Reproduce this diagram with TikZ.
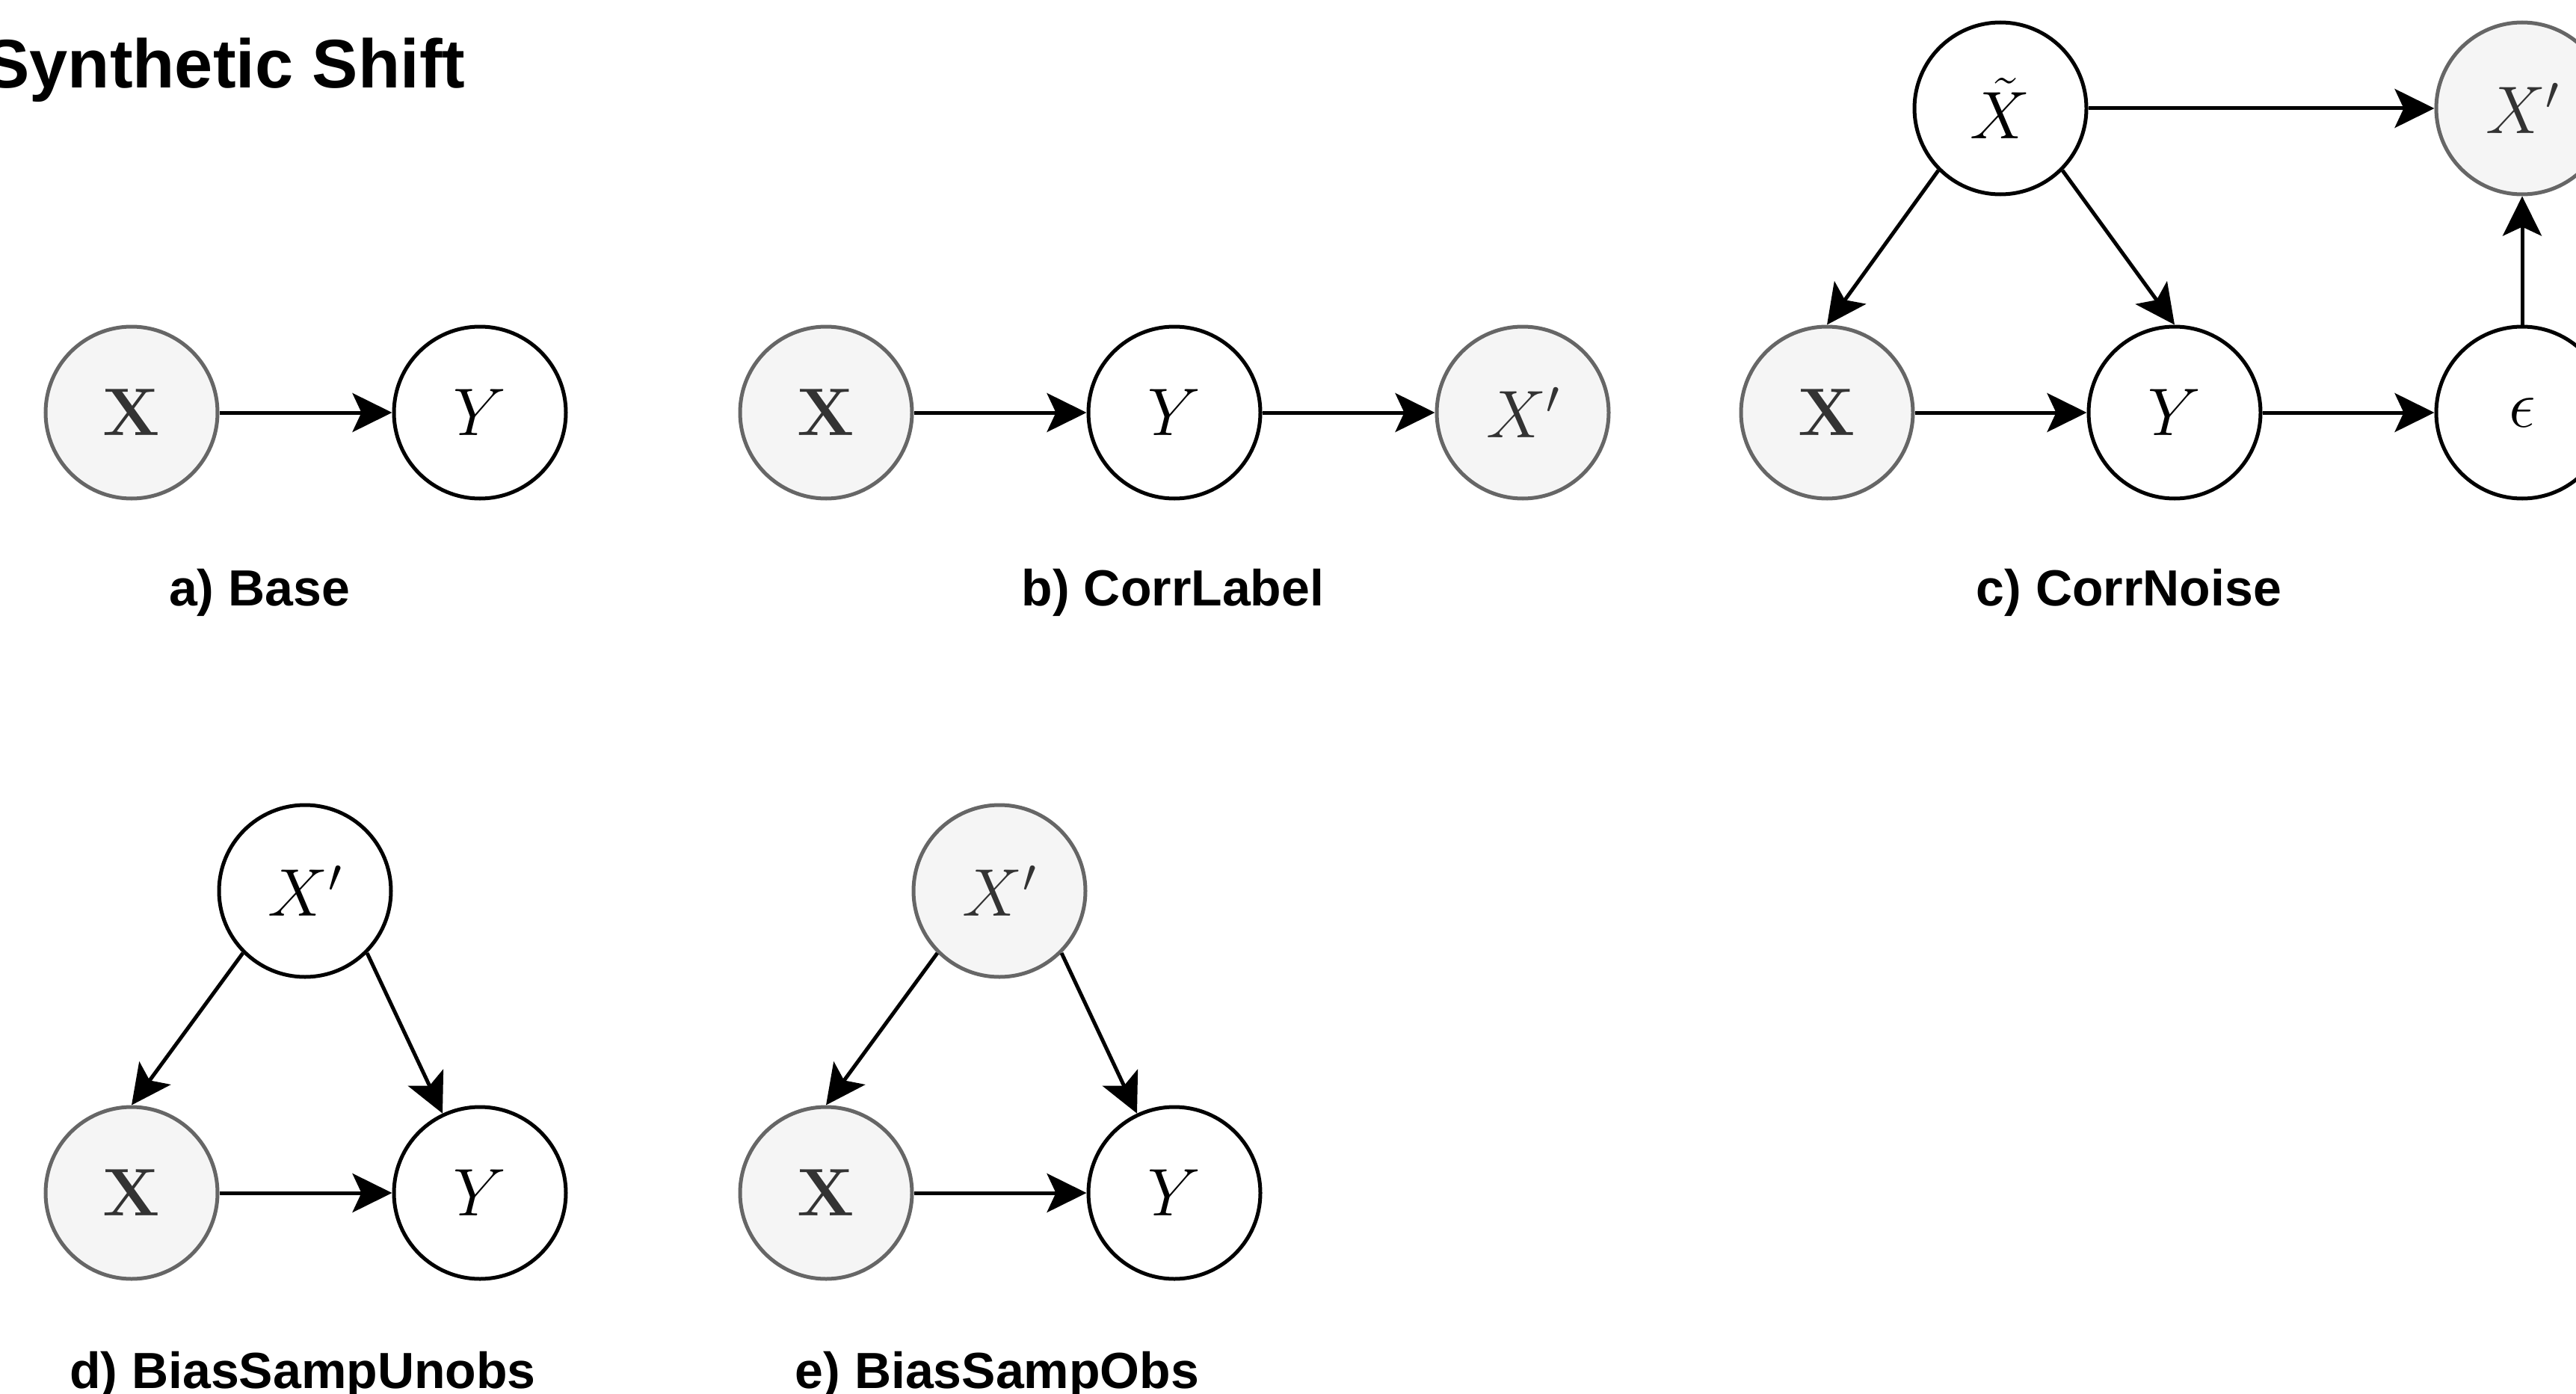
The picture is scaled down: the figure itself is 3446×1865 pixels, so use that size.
\RequirePackage{fix-cm}
\documentclass[tikz,border=0pt]{standalone}
\usepackage[no-math]{fontspec}
\setmainfont{Liberation Sans}
\usetikzlibrary{arrows.meta}

\definecolor{obsfill}{HTML}{F5F5F5}
\definecolor{obsline}{HTML}{666666}
\definecolor{obstext}{HTML}{333333}

\tikzset{
  var/.style={circle, draw=black, fill=white, line width=5pt,
    minimum size=230pt, inner sep=0pt, font=\fontsize{90}{100}\selectfont},
  obs/.style={var, draw=obsline, fill=obsfill, text=obstext},
  edge/.style={line width=5pt, draw=black,
    -{Stealth[length=53pt,width=52pt,inset=12pt]}},
  caption/.style={font=\fontsize{68}{80}\selectfont\bfseries, anchor=base},
  heading/.style={font=\fontsize{92}{110}\selectfont\bfseries, anchor=base east},
}

\begin{document}
\begin{tikzpicture}[x=1pt, y=-1pt]
  \clip (0,0) rectangle (3446,1865);
  \fill[white] (0,0) rectangle (3446,1865);

  \node[heading] (title) at (626,118) {Synthetic Shift};

  % a) Base
  \node[obs] (Xa) at (176,552) {$\mathbf{X}$};
  \node[var] (Ya) at (642,552) {$Y$};
  \draw[edge] (Xa) -- (Ya);
  \node[caption] (capA) at (347,810) {a) Base};

  % b) CorrLabel
  \node[obs] (Xb) at (1105,552) {$\mathbf{X}$};
  \node[var] (Yb) at (1571,552) {$Y$};
  \node[obs] (Pb) at (2037,552) {$X'$};
  \draw[edge] (Xb) -- (Yb);
  \draw[edge] (Yb) -- (Pb);
  \node[caption] (capB) at (1569,810) {b) CorrLabel};

  % c) CorrNoise
  \node[var] (Tc) at (2676,145) {$\tilde{X}$};
  \node[obs] (Pc) at (3374,145) {$X'$};
  \node[obs] (Xc) at (2444,552) {$\mathbf{X}$};
  \node[var] (Yc) at (2909,552) {$Y$};
  \node[var] (Ec) at (3374,552) {$\epsilon$};
  \draw[edge] (Tc) -- (Pc);
  \draw[edge] (Tc.south west) -- (Xc.north);
  \draw[edge] (Tc.south east) -- (Yc.north);
  \draw[edge] (Xc) -- (Yc);
  \draw[edge] (Yc) -- (Ec);
  \draw[edge] (Ec) -- (Pc);
  \node[caption] (capC) at (2848,810) {c) CorrNoise};

  % d) BiasSampUnobs
  \node[var] (Pd) at (408,1192) {$X'$};
  \node[obs] (Xd) at (176,1596) {$\mathbf{X}$};
  \node[var] (Yd) at (642,1596) {$Y$};
  \draw[edge] (Pd.south west) -- (Xd.north);
  \draw[edge] (Pd.south east) -- (Yd);
  \draw[edge] (Xd) -- (Yd);
  \node[caption] (capD) at (405,1857) {d) BiasSampUnobs};

  % e) BiasSampObs
  \node[obs] (Pe) at (1337,1192) {$X'$};
  \node[obs] (Xe) at (1105,1596) {$\mathbf{X}$};
  \node[var] (Ye) at (1571,1596) {$Y$};
  \draw[edge] (Pe.south west) -- (Xe.north);
  \draw[edge] (Pe.south east) -- (Ye);
  \draw[edge] (Xe) -- (Ye);
  \node[caption] (capE) at (1334,1857) {e) BiasSampObs};
\end{tikzpicture}
\end{document}
